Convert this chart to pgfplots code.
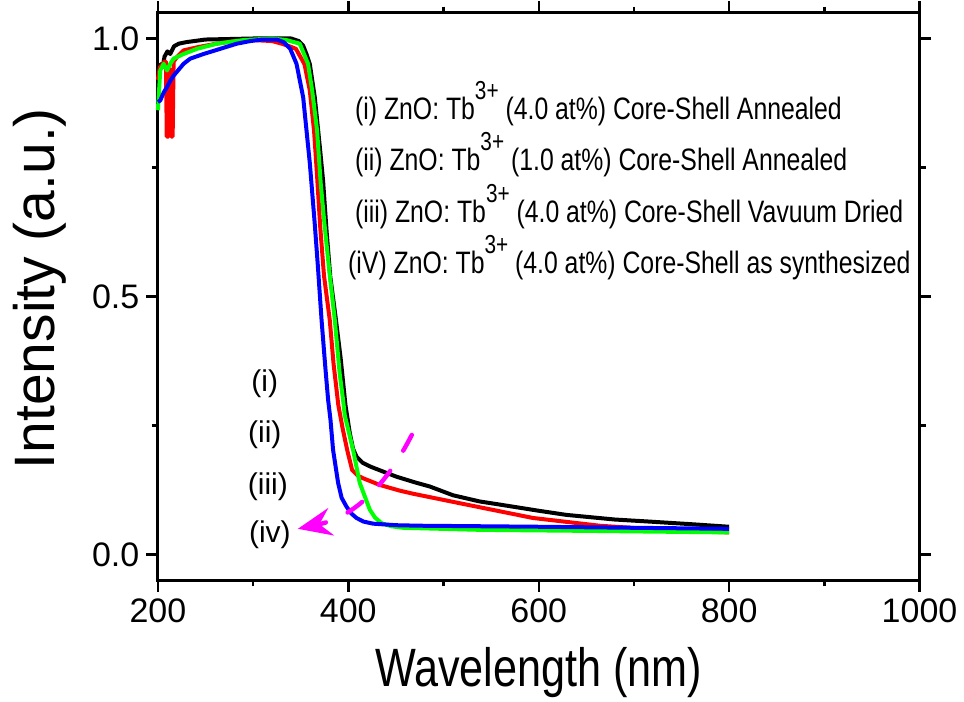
\documentclass[border=0pt]{standalone}
\usepackage{fontspec}
\setmainfont{Liberation Sans}
\newfontfamily\narrowfont[FakeStretch=0.8]{Liberation Sans}
\usepackage{pgfplots}
\pgfplotsset{compat=1.18}
\usetikzlibrary{arrows.meta}
\definecolor{arrowmag}{RGB}{255,0,255}
\definecolor{lgreen}{RGB}{0,255,0}

\begin{document}
\begin{tikzpicture}
\begin{axis}[
    scale only axis, width=381pt, height=284pt,
    xmin=200, xmax=1000, ymin=-0.05, ymax=1.05,
    xtick={200,400,...,1000}, ytick={0,0.5,1},
    minor x tick num=1, minor y tick num=1,
    tick align=outside, tick pos=both,
    major tick length=5.75pt, minor tick length=3pt,
    every tick/.style={black, line width=1.2pt},
    axis line style={line width=1.4pt},
    /pgf/number format/assume math mode=true,
    tick label style={font=\fontsize{17}{17}\selectfont},
    xticklabel style={/pgf/number format/set thousands separator={}},
    yticklabel style={/pgf/number format/.cd, fixed, fixed zerofill, precision=1},
    xlabel={\narrowfont\fontsize{27}{27}\selectfont Wavelength (nm)},
    ylabel={\fontsize{28.5}{28.5}\selectfont Intensity (a.u.)},
    xlabel style={at={(axis description cs:0.5,-0.1866)}, anchor=base, inner sep=0pt},
    ylabel style={at={(axis description cs:-0.1352,0.514)}, anchor=base, rotate=0, inner sep=0pt},
    clip=false,
    every axis plot/.append style={line width=2pt, line join=round},
]
% frame of the whole picture
\path (rel axis cs:-0.2073,-0.2130) rectangle (rel axis cs:1.0577,1.0211);

% (i) black
\addplot[black] table {
x y
200 0.930
203 0.950
205 0.945
207 0.965
210 0.975
213 0.970
217 0.985
222 0.990
230 0.993
250 0.998
300 1.000
340 1.000
348 0.995
352.6 0.986
356 0.970
359.6 0.950
364.8 0.886
370.1 0.790
373.5 0.725
377.1 0.629
381 0.540
387 0.455
392 0.380
397 0.290
401.6 0.235
405 0.205
408.6 0.190
415 0.178
422.6 0.171
435 0.162
450.6 0.151
470 0.140
485.6 0.132
510 0.115
538 0.103
559 0.097
600 0.085
629 0.077
680 0.068
716.5 0.064
760 0.059
800 0.054
};
% (ii) red
\addplot[red] table {
x y
200 0.920
202 0.944
205 0.950
207 0.955
208.5 0.955
209.3 0.810
211.3 0.810
212 0.940
213.3 0.940
214 0.810
215.5 0.810
216.5 0.955
220 0.964
227 0.977
244 0.984
262 0.990
280 0.995
300 0.997
320 0.995
330 0.990
338 0.985
345 0.980
354 0.950
359.5 0.900
364 0.822
367 0.740
370.5 0.635
374.5 0.540
380.5 0.455
384.5 0.370
389.5 0.290
394 0.245
398.8 0.203
404 0.164
410 0.153
415.5 0.148
433 0.135
454 0.124
468 0.118
500 0.106
524 0.097
594 0.071
664 0.056
730 0.048
800 0.043
};
% (iii) green
\addplot[lgreen] table {
x y
200 0.861
202.5 0.938
206 0.951
209.6 0.938
213 0.951
216.5 0.961
227 0.970
241 0.980
262 0.990
290 0.997
320 1.000
335 0.997
349 0.990
357.7 0.951
362 0.900
367.2 0.822
371 0.720
375 0.640
380 0.550
385.8 0.455
391 0.350
394.5 0.300
396.3 0.270
405 0.203
412 0.139
422.6 0.087
428 0.072
434.8 0.061
445 0.055
457.5 0.052
538 0.048
650 0.046
800 0.043
};
% (iv) blue
\addplot[blue] table {
x y
200 0.877
202.5 0.880
206 0.895
209.6 0.906
213 0.918
216.5 0.928
222 0.940
227 0.951
234 0.961
248 0.970
262 0.978
283 0.990
297 0.995
310 0.998
325 0.998
332 0.993
339 0.980
345.6 0.951
352.6 0.886
359.6 0.758
364.8 0.640
368 0.560
371.9 0.455
376 0.360
378.8 0.300
381.3 0.261
384 0.203
389.3 0.139
393 0.110
398.1 0.093
403 0.080
408.6 0.071
416 0.064
426 0.060
450 0.057
475 0.056
538 0.055
600 0.054
700 0.052
800 0.050
};

% legend text
\begin{scope}[every node/.style={anchor=base west, inner sep=0pt, font=\narrowfont\fontsize{15.5}{15.5}\selectfont}]
\node at (axis cs:406.8,0.8433) {(i) ZnO: Tb\raisebox{10pt}{\fontsize{13}{13}\selectfont 3+} (4.0 at\%) Core-Shell Annealed};
\node at (axis cs:406.8,0.7447) {(ii) ZnO: Tb\raisebox{10pt}{\fontsize{13}{13}\selectfont 3+} (1.0 at\%) Core-Shell Annealed};
\node at (axis cs:406.8,0.6441) {(iii) ZnO: Tb\raisebox{10pt}{\fontsize{13}{13}\selectfont 3+} (4.0 at\%) Core-Shell Vavuum Dried};
\node at (axis cs:399.5,0.5455) {(iV) ZnO: Tb\raisebox{10pt}{\fontsize{13}{13}\selectfont 3+} (4.0 at\%) Core-Shell as synthesized};
\end{scope}

% curve labels
\begin{scope}[every node/.style={anchor=base, inner sep=0pt, font=\fontsize{15}{15}\selectfont}]
\node at (axis cs:312.3,0.317) {(i)};
\node at (axis cs:312.3,0.2166) {(ii)};
\node at (axis cs:315.5,0.116) {(iii)};
\node at (axis cs:317.6,0.0232) {(iv)};
\end{scope}

% arrow
\draw[arrowmag, line width=2.2pt, line cap=round, dash pattern=on 9pt off 12pt,
      -{Stealth[length=17pt, width=14pt, inset=6pt]}]
  (axis cs:466.7,0.232) to[out=-117, in=12] (axis cs:347,0.050);
\end{axis}
\end{tikzpicture}
\end{document}
